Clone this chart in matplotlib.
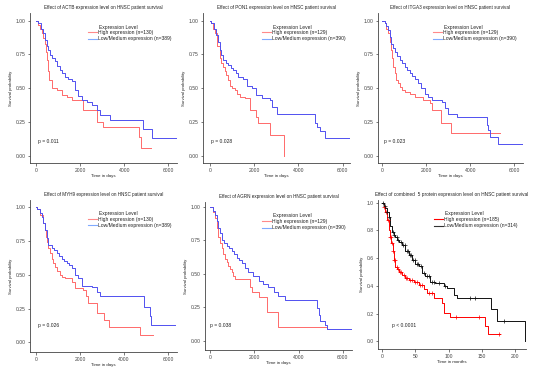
import numpy as np
import matplotlib
matplotlib.use("Agg")
import matplotlib.pyplot as plt
from matplotlib.lines import Line2D

plt.rcParams["font.family"] = ["Liberation Sans", "DejaVu Sans"]

# ---- data: (time, survival) knots of each KM curve ----
actb_hi_t = [0, 100, 180, 260, 330, 410, 450, 480, 540, 600, 710, 940, 1160, 1390, 1620, 2150, 2750, 3050, 4650, 4750, 5200]
actb_hi_s = [1.0, 0.97, 0.94, 0.906, 0.87, 0.83, 0.77, 0.71, 0.63, 0.56, 0.50, 0.487, 0.45, 0.437, 0.41, 0.34, 0.25, 0.21, 0.14, 0.06, 0.06]
actb_lo_t = [0, 100, 220, 330, 400, 480, 550, 630, 740, 860, 970, 1090, 1200, 1310, 1460, 1620, 1770, 1920, 2070, 2300, 2520, 2750, 2900, 3350, 4860, 4940, 5240, 6340]
actb_lo_s = [1.0, 0.98, 0.94, 0.906, 0.86, 0.81, 0.78, 0.745, 0.72, 0.70, 0.665, 0.635, 0.61, 0.585, 0.57, 0.55, 0.49, 0.44, 0.41, 0.40, 0.375, 0.34, 0.30, 0.265, 0.20, 0.20, 0.13, 0.13]

pon1_hi_t = [0, 75, 150, 225, 340, 450, 520, 600, 680, 750, 820, 900, 1020, 1130, 1250, 1360, 1580, 1840, 2110, 2190, 2710, 3360, 3360]
pon1_hi_s = [1.0, 0.98, 0.94, 0.906, 0.81, 0.72, 0.69, 0.66, 0.63, 0.60, 0.56, 0.52, 0.50, 0.486, 0.46, 0.437, 0.425, 0.34, 0.29, 0.24, 0.153, 0.153, 0.0]
pon1_lo_t = [0, 75, 190, 300, 380, 450, 520, 600, 720, 830, 950, 1060, 1170, 1280, 1510, 1660, 1890, 2110, 2340, 2710, 2790, 3020, 4670, 4750, 4830, 4980, 5200, 6330]
pon1_lo_s = [1.0, 0.985, 0.94, 0.894, 0.84, 0.78, 0.745, 0.71, 0.69, 0.67, 0.65, 0.635, 0.61, 0.585, 0.57, 0.52, 0.50, 0.45, 0.425, 0.41, 0.36, 0.31, 0.31, 0.24, 0.215, 0.18, 0.13, 0.13]

itga3_hi_t = [0, 100, 180, 260, 330, 410, 450, 490, 560, 640, 710, 790, 900, 1020, 1250, 1480, 1860, 2160, 2240, 2670, 3150, 5360]
itga3_hi_s = [1.0, 0.98, 0.94, 0.906, 0.84, 0.78, 0.72, 0.66, 0.61, 0.56, 0.535, 0.51, 0.49, 0.474, 0.46, 0.437, 0.41, 0.39, 0.34, 0.245, 0.165, 0.165]
itga3_lo_t = [0, 100, 180, 260, 330, 410, 480, 560, 680, 790, 900, 1020, 1130, 1250, 1360, 1480, 1630, 1780, 1930, 2090, 2240, 2700, 2850, 3000, 3380, 4750, 4830, 4900, 4980, 5280, 6430]
itga3_lo_s = [1.0, 0.985, 0.96, 0.93, 0.88, 0.83, 0.80, 0.77, 0.74, 0.71, 0.685, 0.66, 0.635, 0.61, 0.59, 0.57, 0.535, 0.50, 0.46, 0.437, 0.41, 0.40, 0.35, 0.31, 0.284, 0.227, 0.19, 0.14, 0.14, 0.086, 0.086]

myh9_hi_t = [0, 60, 200, 330, 390, 450, 500, 560, 630, 710, 780, 860, 970, 1090, 1200, 1310, 1620, 1770, 2140, 2270, 2370, 2790, 3080, 3320, 4740, 5320]
myh9_hi_s = [1.0, 0.99, 0.94, 0.88, 0.83, 0.78, 0.74, 0.70, 0.66, 0.62, 0.59, 0.56, 0.53, 0.50, 0.487, 0.474, 0.45, 0.40, 0.39, 0.34, 0.294, 0.215, 0.165, 0.116, 0.054, 0.054]
myh9_lo_t = [0, 60, 160, 260, 330, 410, 480, 560, 710, 820, 940, 1050, 1160, 1270, 1390, 1500, 1620, 1770, 1920, 2110, 2520, 2750, 2900, 4890, 5160, 5240, 6300]
myh9_lo_s = [1.0, 0.99, 0.96, 0.93, 0.88, 0.83, 0.77, 0.72, 0.70, 0.68, 0.66, 0.64, 0.62, 0.60, 0.585, 0.57, 0.55, 0.50, 0.474, 0.42, 0.41, 0.375, 0.34, 0.265, 0.195, 0.128, 0.128]

agrn_hi_t = [0, 120, 225, 300, 380, 450, 530, 600, 680, 750, 830, 900, 980, 1050, 1130, 1810, 1890, 2190, 2560, 3090, 5280, 5280]
agrn_hi_s = [1.0, 0.96, 0.914, 0.84, 0.77, 0.73, 0.69, 0.65, 0.61, 0.585, 0.56, 0.535, 0.51, 0.485, 0.46, 0.40, 0.36, 0.324, 0.214, 0.103, 0.086, 0.086]
agrn_lo_t = [0, 120, 225, 300, 380, 450, 530, 640, 750, 860, 980, 1100, 1210, 1320, 1430, 1580, 1730, 1960, 2190, 2410, 2640, 2870, 3090, 3390, 4830, 4900, 4980, 5200, 5280, 6410]
agrn_lo_s = [1.0, 0.97, 0.94, 0.89, 0.84, 0.80, 0.755, 0.73, 0.705, 0.69, 0.67, 0.645, 0.62, 0.60, 0.58, 0.545, 0.51, 0.484, 0.447, 0.42, 0.40, 0.36, 0.33, 0.30, 0.24, 0.19, 0.15, 0.115, 0.086, 0.086]

comb_hi_t = [0, 2.5, 5, 7.5, 10, 12, 14, 16, 17.5, 20, 22.5, 25, 30, 35, 40, 47.5, 55, 62.5, 67.5, 77.5, 90, 92.5, 102.5, 154, 159, 177.5]
comb_hi_s = [1.0, 0.97, 0.935, 0.875, 0.80, 0.755, 0.71, 0.65, 0.59, 0.54, 0.52, 0.50, 0.48, 0.455, 0.444, 0.43, 0.41, 0.38, 0.35, 0.31, 0.275, 0.204, 0.175, 0.108, 0.055, 0.055]
comb_lo_t = [0, 2.5, 5, 7.5, 10, 12.5, 15, 17.5, 20, 22.5, 25, 30, 35, 40, 45, 50, 55, 60, 65, 72.5, 80, 92.5, 97.5, 107.5, 112.5, 164, 172.5, 215, 215]
comb_lo_s = [1.0, 0.98, 0.96, 0.935, 0.90, 0.83, 0.79, 0.77, 0.755, 0.735, 0.72, 0.695, 0.65, 0.62, 0.59, 0.56, 0.545, 0.49, 0.47, 0.43, 0.42, 0.40, 0.385, 0.336, 0.31, 0.23, 0.145, 0.145, 0.0]
# censoring marks (+) seen on the combined panel
comb_hi_cens = [3, 6, 9, 12, 13, 15, 16, 18, 19, 22, 24, 27, 29, 33, 36, 38, 42, 45, 50, 52, 57, 60, 70, 75, 111, 145, 175]
comb_lo_cens = [2, 4, 8, 11, 16, 18, 22, 24, 28, 32, 34, 37, 39, 42, 44, 47, 49, 52, 54, 58, 63, 67, 70, 75, 78, 85, 95, 132, 140, 183]

panels = [
    dict(gene="ACTB", hi=(actb_hi_t, actb_hi_s), lo=(actb_lo_t, actb_lo_s), n=(130, 389), p="p = 0.011"),
    dict(gene="PON1", hi=(pon1_hi_t, pon1_hi_s), lo=(pon1_lo_t, pon1_lo_s), n=(129, 390), p="p = 0.028"),
    dict(gene="ITGA3", hi=(itga3_hi_t, itga3_hi_s), lo=(itga3_lo_t, itga3_lo_s), n=(129, 390), p="p = 0.023"),
    dict(gene="MYH9", hi=(myh9_hi_t, myh9_hi_s), lo=(myh9_lo_t, myh9_lo_s), n=(130, 389), p="p = 0.026"),
    dict(gene="AGRN", hi=(agrn_hi_t, agrn_hi_s), lo=(agrn_lo_t, agrn_lo_s), n=(129, 390), p="p = 0.038"),
]

# axes boxes in pixels: left, top, right, bottom
boxes = [(30, 13, 177, 163), (203, 13, 350, 163), (378, 13, 523, 163),
         (30, 200, 177, 352), (205, 202, 352, 350), (378, 200, 526, 349)]
xlims = [(-272, 6395), (-303, 6330), (-200, 6410), (-272, 6400), (-226, 6410), (-6, 216)]
ylims = [(-0.054, 1.057), (-0.054, 1.057), (-0.054, 1.057), (-0.072, 1.054), (-0.07, 1.035), (-0.055, 1.02)]
leg_x = [88, 262, 433, 88, 262, 434]
ptxt = [(75, 0.104), (45, 0.104), (60, 0.104), (75, 0.123), (0, 0.11), (15, 0.115)]

W, H = 550, 369
fig = plt.figure(figsize=(5.5, 3.69), dpi=100)

GREY = "#444444"
FS = 3.6


def step_val(t, s, x):
    i = np.searchsorted(t, x, side="right") - 1
    return np.array(s)[i]


def make_ax(k):
    l, t, r, b = boxes[k]
    ax = fig.add_axes([l / W, 1 - b / H, (r - l) / W, (b - t) / H])
    for side in ["top", "right"]:
        ax.spines[side].set_visible(False)
    for side in ["left", "bottom"]:
        ax.spines[side].set_color(GREY)
        ax.spines[side].set_linewidth(0.6)
    ax.tick_params(labelsize=FS, colors=GREY, length=1.8, width=0.5, pad=1.5)
    ax.set_xlim(xlims[k])
    ax.set_ylim(ylims[k])
    ax.set_ylabel("Survival probability", fontsize=3.1, color="#222222", labelpad=2)
    return ax


def add_legend(ax, k, c_hi, c_lo, lab_hi, lab_lo):
    l, t, r, b = boxes[k]
    x0 = (leg_x[k] - l) / (r - l)
    ax.text(x0 + 11 / (r - l), 1 - 14 / (b - t), "Expression Level", transform=ax.transAxes,
            fontsize=FS, color="#222222", va="center", ha="left")
    handles = [Line2D([], [], color=c_hi, lw=0.8), Line2D([], [], color=c_lo, lw=0.8)]
    ax.legend(handles, [lab_hi, lab_lo], loc="upper left", bbox_to_anchor=(x0, 1 - 17 / (b - t)),
              frameon=False, fontsize=FS, borderpad=0, borderaxespad=0, handlelength=1.7,
              handletextpad=0.3, labelspacing=0.25, labelcolor="#222222")


for k, pn in enumerate(panels):
    ax = make_ax(k)
    ax.step(pn["hi"][0], pn["hi"][1], where="post", color="#ff6a6a", lw=0.7)
    ax.step(pn["lo"][0], pn["lo"][1], where="post", color="#5050f0", lw=0.7)
    ax.set_xticks([0, 2000, 4000, 6000])
    ax.set_yticks([0, 0.25, 0.5, 0.75, 1.0])
    ax.set_yticklabels(["0.00", "0.25", "0.50", "0.75", "1.00"])
    ax.set_title("Effect of %s expression level on HNSC patient survival" % pn["gene"],
                 fontsize=3.35, color="#222222", pad=3)
    ax.set_xlabel("Time in days", fontsize=3.2, color="#222222", labelpad=1)
    ax.text(ptxt[k][0], ptxt[k][1], pn["p"], fontsize=FS, color="#222222", va="center")
    add_legend(ax, k, "#ff8a8a", "#80aaff",
               "High expression (n=%d)" % pn["n"][0], "Low/Medium expression (n=%d)" % pn["n"][1])

# combined panel
ax = make_ax(5)
ax.step(comb_hi_t, comb_hi_s, where="post", color="#ff0000", lw=0.7)
ax.step(comb_lo_t, comb_lo_s, where="post", color="#111111", lw=0.7)
ax.plot(comb_hi_cens, step_val(comb_hi_t, comb_hi_s, comb_hi_cens), "+", color="#ff0000", ms=2.2, mew=0.5)
ax.plot(comb_lo_cens, step_val(comb_lo_t, comb_lo_s, comb_lo_cens), "+", color="#111111", ms=2.2, mew=0.5)
ax.set_xticks([0, 50, 100, 150, 200])
ax.set_yticks([0, 0.2, 0.4, 0.6, 0.8, 1.0])
ax.set_yticklabels(["0.0", "0.2", "0.4", "0.6", "0.8", "1.0"])
ax.set_title("Effect of combined  5 protein expression level on HNSC patient survival",
             fontsize=3.4, color="#222222", pad=3)
ax.set_xlabel("Time in months", fontsize=3.2, color="#222222", labelpad=1)
ax.text(ptxt[5][0], ptxt[5][1], "p < 0.0001", fontsize=FS, color="#222222", va="center")
add_legend(ax, 5, "#ff0000", "#333333", "High expression (n=185)", "Low/Medium expression (n=314)")

fig.savefig("out.png", dpi=100)
